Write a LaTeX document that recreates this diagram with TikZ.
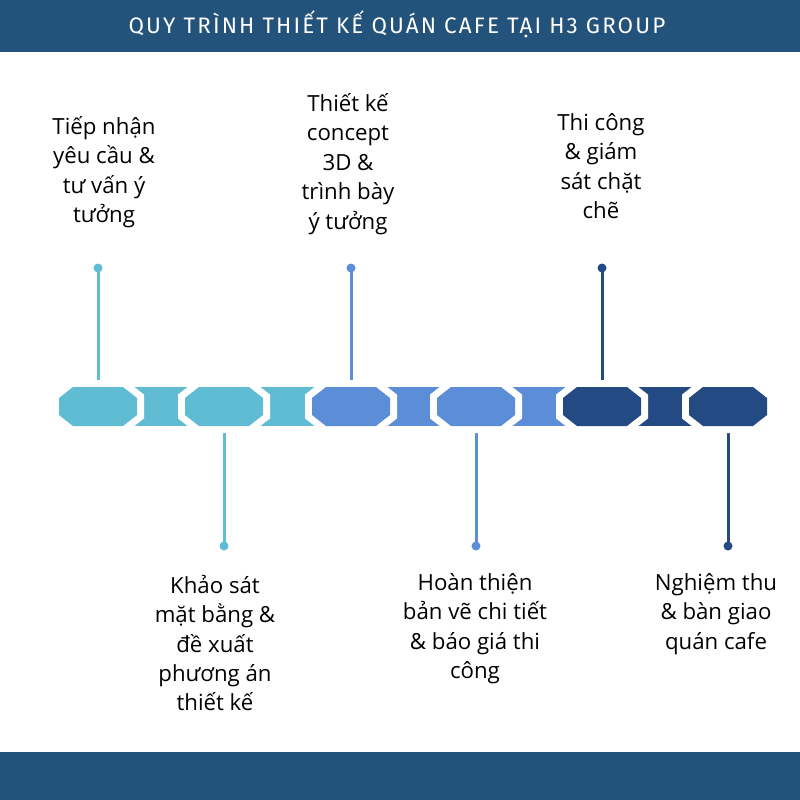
\documentclass[tikz,border=0pt]{standalone}
\usepackage{fontspec}
\setmainfont{Open Sans}
\newfontfamily\titlefont[LetterSpace=9.5]{Fira Sans}
\usetikzlibrary{positioning}

\definecolor{headblue}{HTML}{23527A}
\definecolor{stepteal}{HTML}{5FBCD3}
\definecolor{stepblue}{HTML}{5B8ED6}
\definecolor{stepnavy}{HTML}{234A82}

\tikzset{
  dot/.style = {circle, fill=#1, inner sep=0pt, minimum size=9bp},
  stem/.style = {draw=#1, line width=3bp},
  steptext/.style = {align=center, inner sep=0pt, font=\fontsize{22.3}{29.5}\selectfont},
}

\newcommand{\octagon}[2]{%
  \filldraw[white, line width=14bp, shift={(#1)}]
    (-39,-8.5) -- (-25,-19.5) -- (25,-19.5) -- (39,-8.5) --
    (39,8.5) -- (25,19.5) -- (-25,19.5) -- (-39,8.5) -- cycle;
  \fill[#2, shift={(#1)}]
    (-39,-8.5) -- (-25,-19.5) -- (25,-19.5) -- (39,-8.5) --
    (39,8.5) -- (25,19.5) -- (-25,19.5) -- (-39,8.5) -- cycle;
}

\begin{document}
\begin{tikzpicture}[x = 1bp, y = -1bp]
\useasboundingbox (0,0) rectangle (800,800);

% header and footer
\fill[headblue] (0,0) rectangle (800,52);
\fill[headblue] (0,752) rectangle (800,800);
\node[text=white, font=\titlefont\fontsize{22.5}{24}\selectfont] (title) at (397,24.5) {QUY TRÌNH THIẾT KẾ QUÁN CAFE TẠI H3 GROUP};

% step centres
\coordinate (s1) at (98,406.5);
\coordinate (s2) at (224,406.5);
\coordinate (s3) at (351,406.5);
\coordinate (s4) at (476,406.5);
\coordinate (s5) at (602,406.5);
\coordinate (s6) at (728,406.5);

% dots
\node[dot=stepteal] (d1) at (98,268) {};
\node[dot=stepteal] (d2) at (224,546) {};
\node[dot=stepblue] (d3) at (351,268) {};
\node[dot=stepblue] (d4) at (476,546) {};
\node[dot=stepnavy] (d5) at (602,268) {};
\node[dot=stepnavy] (d6) at (728,546) {};

\draw[stem=stepteal] (d1.center) -- (s1);
\draw[stem=stepteal] (d2.center) -- (s2);
\draw[stem=stepblue] (d3.center) -- (s3);
\draw[stem=stepblue] (d4.center) -- (s4);
\draw[stem=stepnavy] (d5.center) -- (s5);
\draw[stem=stepnavy] (d6.center) -- (s6);

% links between steps
\fill[stepteal] (98,387) rectangle (224,426);
\fill[stepteal] (224,387) rectangle (351,426);
\fill[stepblue] (351,387) rectangle (476,426);
\fill[stepblue] (476,387) rectangle (602,426);
\fill[stepnavy] (602,387) rectangle (728,426);

\octagon{s1}{stepteal}
\octagon{s2}{stepteal}
\octagon{s3}{stepblue}
\octagon{s4}{stepblue}
\octagon{s5}{stepnavy}
\octagon{s6}{stepnavy}

% texts
\node[steptext] (t1) at (104,172) {Tiếp nhận\\yêu cầu \&\\tư vấn ý\\tưởng};
\node[steptext] (t3) at (348,164) {Thiết kế\\concept\\3D \&\\trình bày\\ý tưởng};
\node[steptext] (t5) at (601,166) {Thi công\\\& giám\\sát chặt\\chẽ};
\node[steptext] (t2) at (215,643) {Khảo sát\\mặt bằng \&\\đề xuất\\phương án\\thiết kế};
\node[steptext] (t4) at (475,628.5) {Hoàn thiện\\bản vẽ chi tiết\\\& báo giá thi\\công};
\node[steptext] (t6) at (716,614) {Nghiệm thu\\\& bàn giao\\quán cafe};
\end{tikzpicture}
\end{document}
